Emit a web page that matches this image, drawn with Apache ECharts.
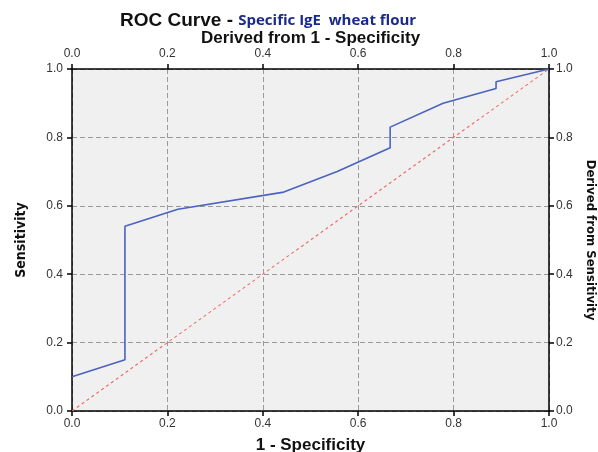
<!DOCTYPE html>
<html><head><meta charset="utf-8">
<script src="https://cdn.jsdelivr.net/npm/echarts@6/dist/echarts.min.js"></script>
<style>html,body{margin:0;padding:0;background:#fff}#c{width:598px;height:452px}</style>
</head><body><div id="c"></div>
<script>
const fpr = [0, 0.111, 0.111, 0.222, 0.444, 0.556, 0.667, 0.667, 0.778, 0.889, 0.889, 1.0];
const tpr = [0.10, 0.15, 0.54, 0.59, 0.64, 0.70, 0.77, 0.83, 0.90, 0.943, 0.963, 1.0];
const refX = [0, 1];
const refY = [0, 1];
const tickLabels = ['0.0','0.2','0.4','0.6','0.8','1.0'];

const chart = echarts.init(document.getElementById('c'));
const lab = (m) => ({fontFamily:'Liberation Sans, Arial', fontSize:12, color:'#333', margin:m, formatter: v => v.toFixed(1)});
const axLine = {show:true, onZero:false, lineStyle:{color:'#000', width:1.5}};
const tick = {show:true, inside:false, length:5, lineStyle:{color:'#000', width:1.5}};
const nameStyle = {fontFamily:'Liberation Sans, Arial', fontWeight:'bold', fontSize:17, color:'#111'};
const sideName = {fontFamily:'DejaVu Sans Condensed, DejaVu Sans', fontWeight:'bold', fontSize:14, color:'#111'};
chart.setOption({
  animation:false,
  backgroundColor:'#fff',
  title:{
    left:115, top:6,
    text:'{a|ROC Curve - }{b|Specific IgE  wheat flour}',
    textStyle:{rich:{
      a:{fontFamily:'Liberation Sans, Arial', fontWeight:'bold', fontSize:19, color:'#111'},
      b:{fontFamily:'Open Sans', fontWeight:'bold', fontSize:15, color:'#1a2a8c'}
    }}
  },
  grid:{left:72, right:49, top:69, bottom:41, show:true, backgroundColor:'#f0f0f0', borderWidth:0, outerBoundsMode:'none', containLabel:false},
  xAxis:[
    {type:'value', min:0, max:1, interval:0.2, position:'bottom',
     name:'1 - Specificity', nameLocation:'middle', nameGap:26, nameTextStyle:nameStyle,
     axisLine:axLine, axisTick:tick, axisLabel:lab(7),
     splitLine:{show:true, lineStyle:{color:'#9a9a9a', type:[5,3], width:1}}},
    {type:'value', min:0, max:1, interval:0.2, position:'top',
     name:'Derived from 1 - Specificity', nameLocation:'middle', nameGap:22, nameMoveOverlap:false, nameTextStyle:nameStyle,
     axisLine:axLine, axisTick:tick, axisLabel:lab(9), splitLine:{show:false}}
  ],
  yAxis:[
    {type:'value', min:0, max:1, interval:0.2, position:'left',
     name:'Sensitivity', nameLocation:'middle', nameGap:44, nameRotate:90,
     nameTextStyle:sideName,
     axisLine:axLine, axisTick:tick, axisLabel:lab(9),
     splitLine:{show:true, lineStyle:{color:'#9a9a9a', type:[5,3], width:1}}},
    {type:'value', min:0, max:1, interval:0.2, position:'right',
     name:'Derived from Sensitivity', nameLocation:'middle', nameGap:34, nameRotate:-90,
     nameTextStyle:Object.assign({}, sideName, {fontSize:13}),
     axisLine:axLine, axisTick:tick, axisLabel:lab(7), splitLine:{show:false}}
  ],
  series:[
    {type:'line', xAxisIndex:0, yAxisIndex:0, symbol:'none', z:3,
     lineStyle:{color:'#4a63bf', width:1.6},
     data: fpr.map((x,i)=>[x, tpr[i]])},
    {type:'line', xAxisIndex:0, yAxisIndex:0, symbol:'none', z:2,
     lineStyle:{color:'#f06868', width:1.1, type:[3,3]},
     data: refX.map((x,i)=>[x, refY[i]])}
  ]
});
</script></body></html>
